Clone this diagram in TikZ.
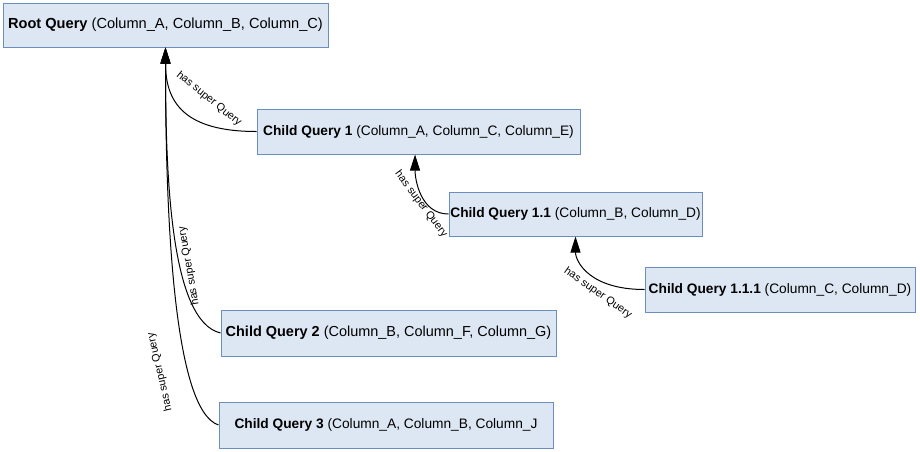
\documentclass[tikz,border=0pt]{standalone}
\usepackage{fontspec}
\setmainfont{Liberation Sans}
\usetikzlibrary{arrows.meta}
\definecolor{boxfill}{RGB}{221,231,243}
\definecolor{boxline}{RGB}{108,142,191}
\begin{document}
\begin{tikzpicture}[x=0.75pt,y=-0.75pt,
  qbox/.style={draw=boxline,fill=boxfill,line width=0.75pt,inner sep=0pt,
    font=\fontsize{10.3}{12}\selectfont,anchor=center},
  rel/.style={draw=black,line width=0.75pt,-{Triangle[length=12pt,width=7.5pt]}},
  lbl/.style={font=\fontsize{8.1}{9}\selectfont,inner sep=0pt}]
\useasboundingbox (0,0) rectangle (920,451);
\node[qbox,minimum width=243.75pt,minimum height=33pt,font=\fontsize{10.95}{13}\selectfont] (root) at (165.5,25) {\textbf{Root Query} (Column\_A, Column\_B, Column\_C)};
\node[qbox,minimum width=242.25pt,minimum height=33.75pt] (c1) at (418.5,131.5) {\textbf{Child Query 1} (Column\_A, Column\_C, Column\_E)};
\node[qbox,minimum width=189.75pt,minimum height=33pt] (c11) at (575.5,214) {\textbf{Child Query 1.1} (Column\_B, Column\_D)};
\node[qbox,minimum width=202.5pt,minimum height=33.75pt] (c111) at (780,289.5) {\textbf{Child Query 1.1.1} (Column\_C, Column\_D)};
\node[qbox,minimum width=251.25pt,minimum height=34.5pt,font=\fontsize{10.85}{13}\selectfont] (c2) at (388.5,333) {\textbf{Child Query 2} (Column\_B, Column\_F, Column\_G)};
\node[qbox,minimum width=250.5pt,minimum height=34.5pt] (c3) at (386,425) {\textbf{Child Query 3} (Column\_A, Column\_B, Column\_J};
\draw[rel] (c1.west) .. controls +(-72,0) and +(0,55) .. (root.south);
\draw[rel] (c2.west) .. controls +(-50,-12) and +(0,130) .. (root.south);
\draw[rel] (c3.west) .. controls +(-45,-15) and +(0,170) .. (root.south);
\draw[rel] (c11.west) .. controls +(-28,0) and +(0,25) .. ([xshift=-2.6pt]c1.south);
\draw[rel] (c111.west) .. controls +(-55,0) and +(0,25) .. (c11.south);
\node[lbl,rotate=-39] (l1) at (209,99) {has super Query};
\node[lbl,rotate=-53] (l11) at (421,204) {has super Query};
\node[lbl,rotate=-35] (l111) at (598,293) {has super Query};
\node[lbl,rotate=100] (l2) at (189,266) {has super Query};
\node[lbl,rotate=103] (l3) at (160,372) {has super Query};
\end{tikzpicture}
\end{document}
